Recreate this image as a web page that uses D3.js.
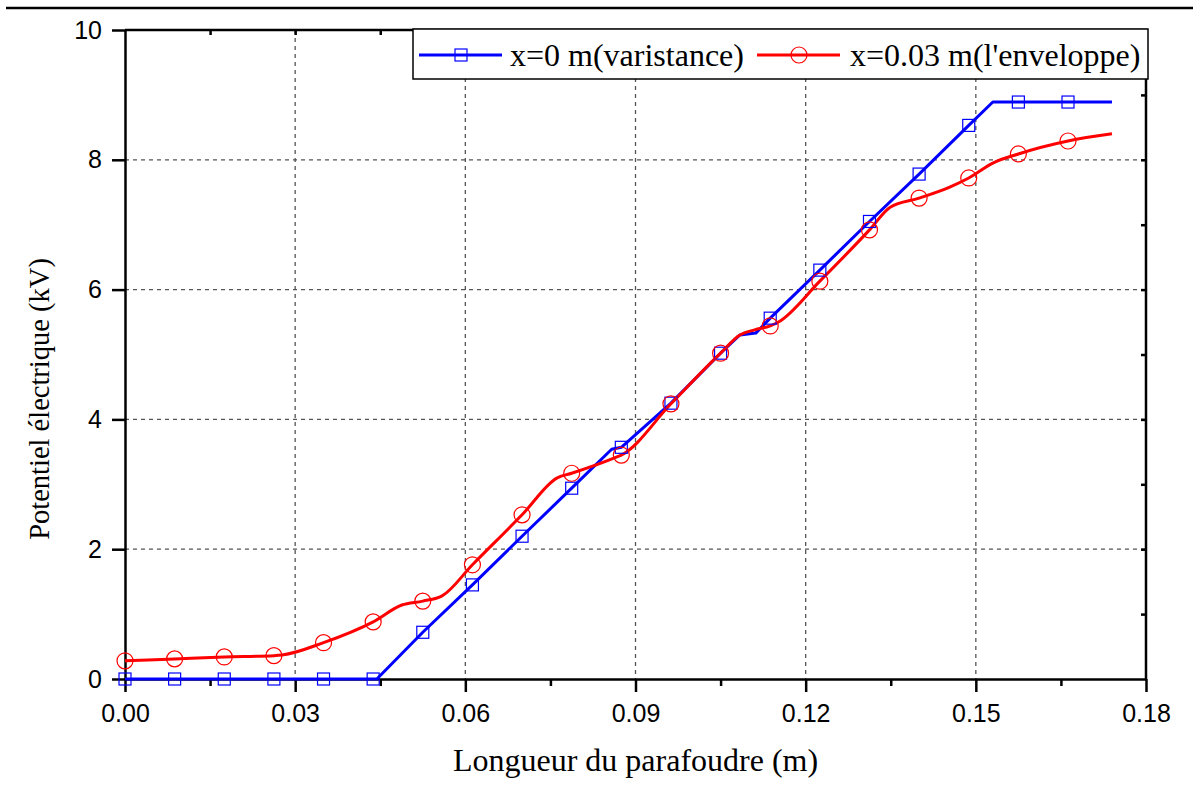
<!DOCTYPE html>
<html><head><meta charset="utf-8">
<script src="https://cdn.jsdelivr.net/npm/d3@7"></script>
<style>
html,body{margin:0;padding:0;background:#fff;}
svg{display:block;}
</style></head>
<body>
<svg id="chart" width="1193" height="802"></svg>
<script>
// ---- data ----
const xTicks = [0, 0.03, 0.06, 0.09, 0.12, 0.15, 0.18];
const xTickLabels = ["0.00", "0.03", "0.06", "0.09", "0.12", "0.15", "0.18"];
const yTicks = [0, 2, 4, 6, 8, 10];
const yTickLabels = ["0", "2", "4", "6", "8", "10"];
const markerStep = 0.00875;

const blueX = [0, 0.00875, 0.0175, 0.02625, 0.035, 0.04375, 0.0444, 0.0525, 0.06125, 0.07, 0.07875, 0.0858, 0.0875, 0.09625, 0.105, 0.1084, 0.1112, 0.11375, 0.1225, 0.13125, 0.14, 0.14875, 0.153, 0.1575, 0.16625, 0.174];
const blueY = [0, 0, 0, 0, 0, 0, 0, 0.72, 1.45, 2.2, 2.94, 3.54, 3.57, 4.25, 5.02, 5.3, 5.33, 5.56, 6.3, 7.05, 7.78, 8.53, 8.89, 8.89, 8.89, 8.89];

const redX = [0, 0.00875, 0.0175, 0.02625, 0.0277, 0.035, 0.04375, 0.0488, 0.0525, 0.0559, 0.06125, 0.07, 0.0762, 0.07875, 0.0864, 0.0875, 0.09625, 0.105, 0.1084, 0.111, 0.11375, 0.1152, 0.1225, 0.13125, 0.1349, 0.14, 0.1454, 0.14875, 0.153, 0.1575, 0.16625, 0.174];
const redY = [0.28, 0.31, 0.34, 0.36, 0.37, 0.56, 0.88, 1.14, 1.2, 1.28, 1.76, 2.53, 3.1, 3.17, 3.41, 3.45, 4.24, 5.02, 5.3, 5.38, 5.44, 5.5, 6.13, 6.92, 7.27, 7.41, 7.58, 7.72, 7.95, 8.09, 8.29, 8.4];

const seriesNames = ["x=0 m(varistance)", "x=0.03 m(l'enveloppe)"];
const xTitle = "Longueur du parafoudre (m)";
const yTitle = "Potentiel électrique (kV)";

// ---- layout ----
const L = 125, R = 1146, T = 30, B = 679;
const svg = d3.select("#chart");
const x = d3.scaleLinear().domain([0, 0.18]).range([L, R]);
const y = d3.scaleLinear().domain([0, 10]).range([B, T]);
const serif = "'Times New Roman', 'Liberation Serif', serif";
const sans = "Arial, 'Liberation Sans', sans-serif";

// top rule
svg.append("line").attr("x1", 6).attr("x2", 1193).attr("y1", 8).attr("y2", 8)
  .attr("stroke", "#000").attr("stroke-width", 2.5);

// grid
const grid = svg.append("g").attr("stroke", "#555").attr("stroke-width", 1.3).attr("stroke-dasharray", "4,4");
xTicks.filter(v => v > 0 && v < 0.18).forEach(v => {
  grid.append("line").attr("x1", x(v)).attr("x2", x(v)).attr("y1", T).attr("y2", B);
});
yTicks.filter(v => v > 0 && v < 10).forEach(v => {
  grid.append("line").attr("x1", L).attr("x2", R).attr("y1", y(v)).attr("y2", y(v));
});

// axes
const xAxis = d3.axisBottom(x).tickValues(xTicks).tickFormat((d, i) => xTickLabels[i]).tickSize(13).tickPadding(12).tickSizeOuter(0);
const gx = svg.append("g").attr("transform", `translate(0,${B})`).call(xAxis);
const xMinor = d3.axisBottom(x).tickValues(d3.range(0.015, 0.18, 0.03)).tickFormat("").tickSize(7).tickSizeOuter(0);
const gxm = svg.append("g").attr("transform", `translate(0,${B})`).call(xMinor);
const yAxis = d3.axisLeft(y).tickValues(yTicks).tickFormat((d, i) => yTickLabels[i]).tickSize(13).tickPadding(10).tickSizeOuter(0);
const gy = svg.append("g").attr("transform", `translate(${L},0)`).call(yAxis);
// top & right inward ticks
const xTop = d3.axisBottom(x).tickValues(d3.range(0.015, 0.18, 0.015)).tickFormat("").tickSize(5).tickSizeOuter(0);
const gt = svg.append("g").attr("transform", `translate(0,${T})`).call(xTop);
const yRight = d3.axisLeft(y).tickValues(d3.range(1, 10, 1)).tickFormat("").tickSize(5).tickSizeOuter(0);
const gr = svg.append("g").attr("transform", `translate(${R},0)`).call(yRight);
[gt, gr].forEach(g => g.select(".domain").remove());
[gx, gxm, gy, gt, gr].forEach(g => {
  g.selectAll("line").attr("stroke", "#000").attr("stroke-width", 2.5);
  g.selectAll(".domain").attr("stroke", "#000").attr("stroke-width", 2.5);
  g.selectAll("text").attr("font-family", sans).attr("font-size", 25).attr("fill", "#000");
});
gxm.select(".domain").remove();
// frame top & right
svg.append("path").attr("d", `M${L},${T}H${R}V${B}`).attr("fill", "none").attr("stroke", "#000").attr("stroke-width", 2.5);

// lines
const lineLin = d3.line().x(d => x(d[0])).y(d => y(d[1]));
const lineSmooth = d3.line().x(d => x(d[0])).y(d => y(d[1])).curve(d3.curveMonotoneX);
const bluePts = blueX.map((v, i) => [v, blueY[i]]);
const redPts = redX.map((v, i) => [v, redY[i]]);
const isMarker = d => Math.abs(d[0] / markerStep - Math.round(d[0] / markerStep)) < 1e-6;

svg.append("path").datum(bluePts).attr("d", lineLin).attr("fill", "none").attr("stroke", "#0000ff").attr("stroke-width", 3).attr("stroke-linejoin", "round");
svg.append("path").datum(redPts).attr("d", lineSmooth).attr("fill", "none").attr("stroke", "#ff0000").attr("stroke-width", 3).attr("stroke-linejoin", "round");

svg.append("g").selectAll("rect").data(bluePts.filter(isMarker)).join("rect")
  .attr("x", d => x(d[0]) - 6).attr("y", d => y(d[1]) - 6).attr("width", 12).attr("height", 12)
  .attr("fill", "none").attr("stroke", "#0000ff").attr("stroke-width", 1.2);
svg.append("g").selectAll("circle").data(redPts.filter(isMarker)).join("circle")
  .attr("cx", d => x(d[0])).attr("cy", d => y(d[1])).attr("r", 8)
  .attr("fill", "none").attr("stroke", "#ff0000").attr("stroke-width", 1.2);

// titles
svg.append("text").attr("x", (L + R) / 2).attr("y", 771).attr("text-anchor", "middle")
  .attr("font-family", serif).attr("font-size", 32).text(xTitle);
svg.append("text").attr("transform", "translate(49,399) rotate(-90)").attr("text-anchor", "middle")
  .attr("font-family", serif).attr("font-size", 28.5).text(yTitle);

// legend
const lg = svg.append("g");
lg.append("rect").attr("x", 413).attr("y", 29).attr("width", 735).attr("height", 50)
  .attr("fill", "#fff").attr("stroke", "#000").attr("stroke-width", 1.5);
lg.append("line").attr("x1", 419).attr("x2", 502).attr("y1", 55).attr("y2", 55).attr("stroke", "#0000ff").attr("stroke-width", 3);
lg.append("rect").attr("x", 455).attr("y", 49).attr("width", 12).attr("height", 12).attr("fill", "none").attr("stroke", "#0000ff").attr("stroke-width", 1.2);
lg.append("text").attr("x", 510).attr("y", 66).attr("font-family", serif).attr("font-size", 32).text(seriesNames[0]);
lg.append("line").attr("x1", 757).attr("x2", 840).attr("y1", 55).attr("y2", 55).attr("stroke", "#ff0000").attr("stroke-width", 3);
lg.append("circle").attr("cx", 799).attr("cy", 55).attr("r", 8).attr("fill", "none").attr("stroke", "#ff0000").attr("stroke-width", 1.2);
lg.append("text").attr("x", 850).attr("y", 66).attr("font-family", serif).attr("font-size", 32).text(seriesNames[1]);
</script>
</body></html>
